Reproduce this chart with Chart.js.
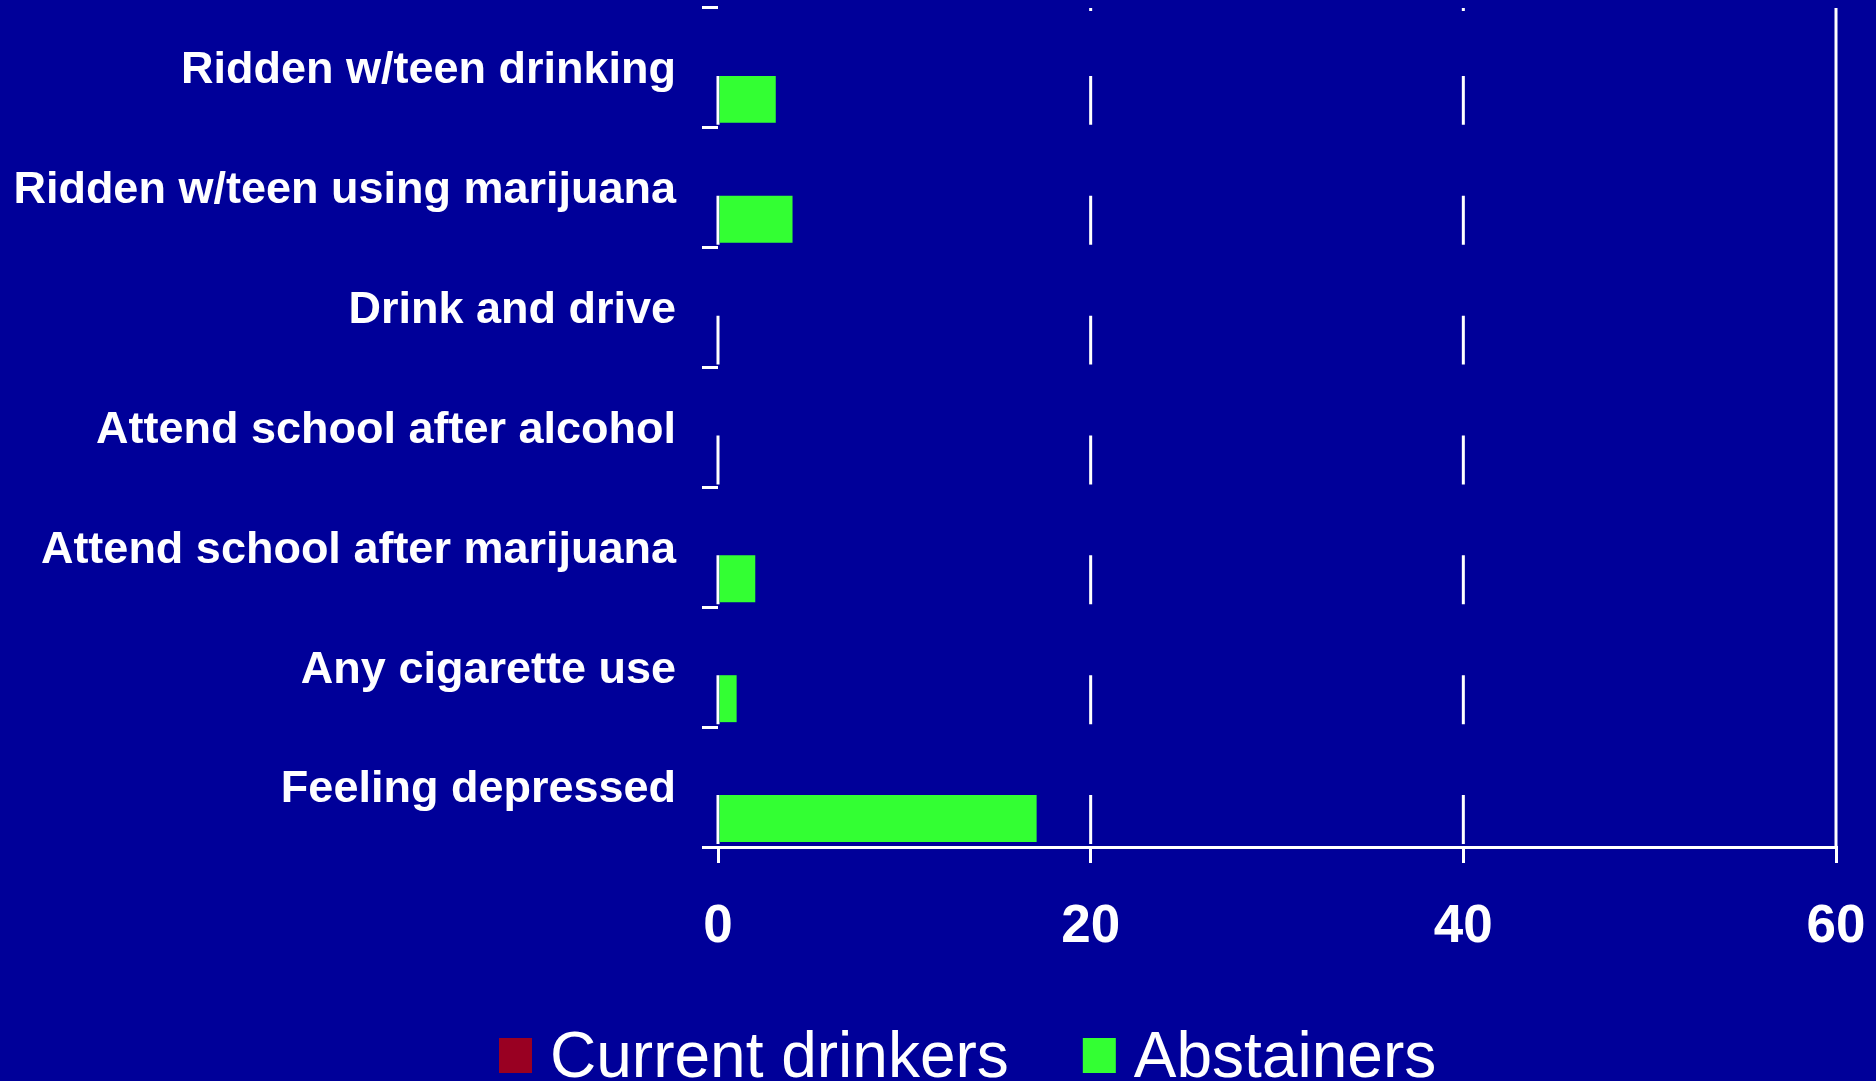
<!DOCTYPE html>
<html>
<head>
<meta charset="utf-8">
<script src="https://cdn.jsdelivr.net/npm/chart.js@4/dist/chart.umd.min.js"></script>
<style>
  html, body { margin: 0; padding: 0; background: #000099; overflow: hidden; }
  #wrap { width: 1876px; height: 1081px; }
  canvas { display: block; }
</style>
</head>
<body>
<div id="wrap"><canvas id="c" width="1876" height="1081"></canvas></div>
<script>
// Risk behaviours, percent of students
const categories = [
  'Ridden w/teen drinking',
  'Ridden w/teen using marijuana',
  'Drink and drive',
  'Attend school after alcohol',
  'Attend school after marijuana',
  'Any cigarette use',
  'Feeling depressed'
];
const seriesNames = ['Current drinkers', 'Abstainers'];
const seriesColors = ['#990022', '#33FF33'];
const currentDrinkers = [null, null, null, null, null, null, null];
const abstainers = [3.1, 4.0, 0, 0, 2.0, 1.0, 17.1];
const xTicks = [0, 20, 40, 60];

const FONT = '"Liberation Sans", Arial, Helvetica, sans-serif';

// Vertical reference lines drawn only across each Abstainers bar band,
// with a full-height line at the right end of the value axis.
const bandGrid = {
  id: 'bandGrid',
  beforeDatasetsDraw(chart) {
    const { ctx, chartArea, scales: { x } } = chart;
    const meta = chart.getDatasetMeta(1);
    ctx.save();
    ctx.strokeStyle = '#ffffff';
    ctx.lineWidth = 3;
    xTicks.forEach(v => {
      const px = x.getPixelForValue(v);
      ctx.beginPath();
      if (v === x.max) {
        ctx.moveTo(px, chartArea.top);
        ctx.lineTo(px, chartArea.bottom);
      } else {
        meta.data.forEach(bar => {
          const { y, height } = bar.getProps(['y', 'height'], true);
          ctx.moveTo(px, y - height / 2);
          ctx.lineTo(px, y + height / 2 + 2);
        });
        if (v !== x.min) {
          ctx.moveTo(px, chartArea.top);
          ctx.lineTo(px, chartArea.top + 3);
        }
      }
      ctx.stroke();
    });
    ctx.restore();
  }
};

// Legend row along the bottom edge
const bottomLegend = {
  id: 'bottomLegend',
  afterDraw(chart) {
    const ctx = chart.ctx;
    ctx.save();
    ctx.font = '64px ' + FONT;
    ctx.textBaseline = 'alphabetic';
    let cx = 499;
    chart.data.datasets.forEach(ds => {
      ctx.fillStyle = ds.backgroundColor;
      ctx.fillRect(cx, 1038, 33, 35);
      cx += 33 + 18;
      ctx.fillStyle = '#ffffff';
      ctx.fillText(ds.label, cx, 1077);
      cx += ctx.measureText(ds.label).width + 74;
    });
    ctx.restore();
  }
};

new Chart(document.getElementById('c'), {
  type: 'bar',
  data: {
    labels: categories,
    datasets: [
      { label: seriesNames[0], data: currentDrinkers, backgroundColor: seriesColors[0] },
      { label: seriesNames[1], data: abstainers, backgroundColor: seriesColors[1] }
    ]
  },
  options: {
    indexAxis: 'y',
    responsive: false,
    animation: false,
    categoryPercentage: 1.05,
    barPercentage: 0.746,
    layout: { padding: { top: 8, right: 40, bottom: 114, left: 0 } },
    plugins: {
      legend: { display: false },
      tooltip: { enabled: false }
    },
    scales: {
      x: {
        min: 0,
        max: 60,
        afterBuildTicks: s => { s.ticks = xTicks.map(v => ({ value: v })); },
        afterFit: s => {
          s.height = 120;
          s.paddingLeft = 0; s.paddingRight = 0; s.paddingTop = 0; s.paddingBottom = 0;
        },
        grid: { drawOnChartArea: false, color: '#ffffff', lineWidth: 3, tickLength: 16 },
        border: { display: true, color: '#ffffff', width: 3 },
        ticks: {
          color: '#ffffff',
          padding: 33,
          maxRotation: 0,
          font: { family: FONT, size: 53, weight: 'bold' }
        }
      },
      y: {
        afterFit: s => {
          s.width = 718;
          s.paddingLeft = 0; s.paddingRight = 0; s.paddingTop = 0; s.paddingBottom = 0;
        },
        grid: { drawOnChartArea: false, color: '#ffffff', lineWidth: 3, tickLength: 16, offset: true },
        border: { display: false },
        ticks: {
          color: '#ffffff',
          padding: 26,
          labelOffset: 3,
          font: { family: FONT, size: 45, weight: 'bold' }
        }
      }
    }
  },
  plugins: [bandGrid, bottomLegend]
});
</script>
</body>
</html>
